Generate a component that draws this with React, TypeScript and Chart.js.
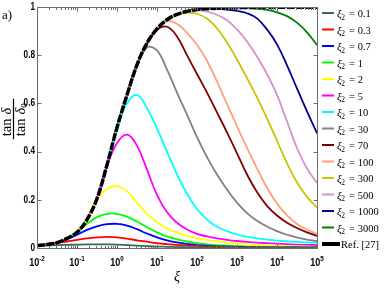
import React, { useEffect, useRef } from "react";
import { Chart, registerables } from "chart.js";

Chart.register(...registerables);

// x grid (xi), quarter decades from 1e-2 to 1e5
const xiGrid = [0.01, 0.0178, 0.0316, 0.0562, 0.1, 0.178, 0.316, 0.562, 1, 1.78, 3.16, 5.62, 10, 17.8, 31.6, 56.2, 100, 178, 316, 562, 1000, 1780, 3160, 5620, 10000, 17800, 31600, 56200, 100000];

const xTickExponents = [-2, -1, 0, 1, 2, 3, 4, 5];
const yTickValues = [0, 0.2, 0.4, 0.6, 0.8, 1];
const yTickLabels = ["0", "0.2", "0.4", "0.6", "0.8", "1"];

const xi2Labels = ["0.1", "0.3", "0.7", "1", "2", "5", "10", "30", "70", "100", "300", "500", "1000", "3000"];
const seriesColors = ["#2f6f55", "#ff0000", "#0000ff", "#00ff00", "#ffff00", "#ff00ff", "#00ffff", "#808080", "#800000", "#ffa07a", "#c8c400", "#d890c8", "#000090", "#008000"];

const v0_1 = [0.008, 0.01, 0.012, 0.013, 0.014, 0.015, 0.015, 0.015, 0.014, 0.012, 0.01, 0.008, 0.006, 0.005, 0.004, 0.003, 0.002, 0.002, 0.001, 0.001, 0.001, 0.001, 0.001, 0.001, 0.001, 0.001, 0.001, 0.001, 0.001];
const v0_3 = [0.01, 0.014, 0.02, 0.027, 0.034, 0.04, 0.044, 0.046, 0.044, 0.039, 0.032, 0.026, 0.02, 0.016, 0.013, 0.01, 0.008, 0.006, 0.005, 0.004, 0.003, 0.003, 0.002, 0.002, 0.002, 0.001, 0.001, 0.001, 0.001];
const v0_7 = [0.01, 0.015, 0.022, 0.036, 0.055, 0.075, 0.09, 0.099, 0.1, 0.093, 0.078, 0.06, 0.044, 0.032, 0.023, 0.017, 0.012, 0.009, 0.007, 0.006, 0.005, 0.004, 0.003, 0.003, 0.002, 0.002, 0.002, 0.001, 0.001];
const v1 = [0.01, 0.015, 0.022, 0.04, 0.065, 0.1, 0.128, 0.142, 0.142, 0.13, 0.11, 0.086, 0.065, 0.048, 0.036, 0.027, 0.02, 0.015, 0.012, 0.01, 0.008, 0.006, 0.005, 0.004, 0.003, 0.003, 0.002, 0.002, 0.002];
const v2 = [0.01, 0.015, 0.022, 0.04, 0.065, 0.118, 0.2, 0.245, 0.257, 0.235, 0.188, 0.142, 0.107, 0.081, 0.063, 0.05, 0.041, 0.034, 0.028, 0.023, 0.019, 0.016, 0.013, 0.011, 0.009, 0.008, 0.007, 0.006, 0.005];
const v5 = [0.01, 0.015, 0.022, 0.04, 0.065, 0.118, 0.205, 0.34, 0.435, 0.47, 0.425, 0.325, 0.22, 0.148, 0.105, 0.077, 0.059, 0.048, 0.04, 0.034, 0.029, 0.025, 0.022, 0.02, 0.018, 0.016, 0.014, 0.013, 0.012];
const v10 = [0.01, 0.015, 0.022, 0.04, 0.065, 0.118, 0.205, 0.345, 0.49, 0.6, 0.635, 0.58, 0.495, 0.4, 0.305, 0.225, 0.162, 0.118, 0.088, 0.07, 0.056, 0.047, 0.04, 0.035, 0.031, 0.028, 0.025, 0.023, 0.021];
const v30 = [0.01, 0.015, 0.022, 0.04, 0.065, 0.118, 0.205, 0.345, 0.5, 0.635, 0.755, 0.832, 0.82, 0.74, 0.645, 0.553, 0.46, 0.377, 0.305, 0.243, 0.188, 0.145, 0.113, 0.089, 0.07, 0.055, 0.044, 0.035, 0.028];
const v70 = [0.01, 0.015, 0.022, 0.04, 0.065, 0.118, 0.205, 0.345, 0.5, 0.635, 0.76, 0.848, 0.905, 0.918, 0.878, 0.8, 0.722, 0.645, 0.563, 0.48, 0.393, 0.305, 0.232, 0.175, 0.135, 0.105, 0.083, 0.065, 0.05];
const v100 = [0.01, 0.015, 0.022, 0.04, 0.065, 0.118, 0.205, 0.345, 0.5, 0.635, 0.76, 0.85, 0.907, 0.942, 0.93, 0.893, 0.843, 0.777, 0.69, 0.598, 0.505, 0.415, 0.33, 0.25, 0.185, 0.135, 0.1, 0.077, 0.058];
const v300 = [0.01, 0.015, 0.022, 0.04, 0.065, 0.118, 0.205, 0.345, 0.5, 0.635, 0.76, 0.85, 0.909, 0.947, 0.969, 0.977, 0.972, 0.952, 0.912, 0.853, 0.782, 0.705, 0.625, 0.538, 0.445, 0.352, 0.272, 0.212, 0.168];
const v500 = [0.01, 0.015, 0.022, 0.04, 0.065, 0.118, 0.205, 0.345, 0.5, 0.635, 0.76, 0.85, 0.909, 0.947, 0.969, 0.982, 0.986, 0.981, 0.968, 0.945, 0.907, 0.857, 0.795, 0.722, 0.635, 0.525, 0.415, 0.33, 0.27];
const v1000 = [0.01, 0.015, 0.022, 0.04, 0.065, 0.118, 0.205, 0.345, 0.5, 0.635, 0.76, 0.85, 0.909, 0.947, 0.969, 0.982, 0.99, 0.993, 0.992, 0.989, 0.984, 0.974, 0.953, 0.907, 0.845, 0.758, 0.662, 0.567, 0.476];
const v3000 = [0.01, 0.015, 0.022, 0.04, 0.065, 0.118, 0.205, 0.345, 0.5, 0.635, 0.76, 0.85, 0.909, 0.947, 0.969, 0.982, 0.99, 0.993, 0.995, 0.996, 0.997, 0.996, 0.993, 0.988, 0.978, 0.962, 0.935, 0.895, 0.842];
const vRef = [0.01, 0.015, 0.022, 0.04, 0.065, 0.118, 0.205, 0.345, 0.5, 0.635, 0.76, 0.85, 0.909, 0.947, 0.969, 0.982, 0.99, 0.993, 0.995, 0.996, 0.997, 0.998, 0.998, 0.999, 0.999, 0.999, 0.999, 0.999, 0.999];

const seriesValues = [v0_1, v0_3, v0_7, v1, v2, v5, v10, v30, v70, v100, v300, v500, v1000, v3000];
const refLabel = "Ref. [27]";

const SERIF = "'Liberation Serif', 'DejaVu Serif', serif";
const SANS = "'Liberation Sans', Arial, sans-serif";

const decorPlugin = {
  id: "decor",
  afterDraw(chart: any) {
    const ctx: CanvasRenderingContext2D = chart.ctx;
    const ca = chart.chartArea;
    const xs = chart.scales.x;
    const ys = chart.scales.y;
    ctx.save();
    const L = Math.round(ca.left) + 0.5;
    const R = Math.round(ca.right) + 0.5;
    const T = Math.round(ca.top) + 0.5;
    const B = Math.round(ca.bottom) + 0.5;
    ctx.strokeStyle = "#6a6a6a";
    ctx.lineWidth = 1;
    ctx.beginPath();
    ctx.moveTo(L, T); ctx.lineTo(R, T); ctx.lineTo(R, B); ctx.lineTo(L, B); ctx.closePath();
    yTickValues.forEach((v) => {
      const py = Math.round(ys.getPixelForValue(v)) + 0.5;
      ctx.moveTo(L, py); ctx.lineTo(L + 4, py);
      ctx.moveTo(R, py); ctx.lineTo(R - 4, py);
    });
    xTickExponents.forEach((e, i) => {
      const base = Math.pow(10, e);
      const px = Math.round(xs.getPixelForValue(base)) + 0.5;
      ctx.moveTo(px, B); ctx.lineTo(px, B - 4);
      ctx.moveTo(px, T); ctx.lineTo(px, T + 4);
      if (i < xTickExponents.length - 1) {
        for (let m = 2; m <= 9; m++) {
          const mx = Math.round(xs.getPixelForValue(base * m)) + 0.5;
          ctx.moveTo(mx, B); ctx.lineTo(mx, B - 2.5);
          ctx.moveTo(mx, T); ctx.lineTo(mx, T + 2.5);
        }
      }
    });
    ctx.stroke();

    // y tick labels
    ctx.fillStyle = "#000";
    ctx.textBaseline = "middle";
    yTickValues.forEach((v, i) => {
      const py = ys.getPixelForValue(v);
      ctx.save();
      ctx.translate(ca.left - 2, py);
      ctx.scale(0.82, 1);
      ctx.font = "bold 10px " + SANS;
      ctx.textAlign = "right";
      ctx.fillText(yTickLabels[i], 0, 0);
      ctx.restore();
    });

    // x tick labels 10^e
    const sx = 0.9;
    xTickExponents.forEach((e) => {
      const px = xs.getPixelForValue(Math.pow(10, e));
      const baseTxt = "10";
      const expTxt = e < 0 ? "-" + Math.abs(e) : String(e);
      ctx.save();
      ctx.font = "bold 10px " + SANS;
      const wb = ctx.measureText(baseTxt).width * sx;
      ctx.font = "bold 7px " + SANS;
      const we = ctx.measureText(expTxt).width * sx;
      const x0 = px - (wb + we) / 2;
      ctx.textAlign = "left";
      ctx.textBaseline = "alphabetic";
      ctx.translate(x0, 266);
      ctx.scale(sx, 1);
      ctx.font = "bold 10px " + SANS;
      ctx.fillText(baseTxt, 0, 0);
      ctx.font = "bold 7px " + SANS;
      ctx.fillText(expTxt, wb / sx, -5);
      ctx.restore();
    });

    // x axis title
    ctx.font = "italic 14px " + SERIF;
    ctx.textAlign = "center";
    ctx.textBaseline = "alphabetic";
    ctx.fillText("ξ", (ca.left + ca.right) / 2, 281);

    // panel label
    ctx.font = "13px " + SERIF;
    ctx.textAlign = "left";
    ctx.fillText("a)", 2, 19);

    // y axis title: fraction tan δ / tan δ0
    ctx.save();
    ctx.translate(13.5, 122);
    ctx.rotate(-Math.PI / 2);
    ctx.textBaseline = "alphabetic";
    ctx.textAlign = "left";
    ctx.font = "14.5px " + SERIF;
    const wTan = ctx.measureText("tan").width;
    ctx.font = "italic 14.5px " + SERIF;
    const wDel = ctx.measureText("δ").width;
    const gap = 4;
    const wNum = wTan + gap + wDel;
    // numerator
    let nx = -wNum / 2;
    ctx.font = "14.5px " + SERIF;
    ctx.fillText("tan", nx, -3);
    ctx.font = "italic 14.5px " + SERIF;
    ctx.fillText("δ", nx + wTan + gap, -3);
    // bar
    ctx.fillRect(-wNum / 2 - 3, -0.6, wNum + 12, 1.2);
    // denominator
    ctx.font = "14.5px " + SERIF;
    ctx.fillText("tan", nx, 11);
    ctx.font = "italic 14.5px " + SERIF;
    ctx.fillText("δ", nx + wTan + gap, 11);
    ctx.font = "9px " + SERIF;
    ctx.fillText("0", nx + wNum, 13.5);
    ctx.restore();

    // legend
    const lx = 322;
    const y0 = 13;
    const dy = 16.5;
    xi2Labels.forEach((lab, i) => {
      const y = y0 + i * dy;
      ctx.strokeStyle = seriesColors[i];
      ctx.lineWidth = 2;
      ctx.beginPath();
      ctx.moveTo(lx, y); ctx.lineTo(lx + 12, y);
      ctx.stroke();
      ctx.fillStyle = "#000";
      ctx.textAlign = "left";
      ctx.textBaseline = "alphabetic";
      let tx = lx + 15;
      ctx.font = "italic 11px " + SERIF;
      ctx.fillText("ξ", tx, y + 4);
      tx += ctx.measureText("ξ").width;
      ctx.font = "7.5px " + SERIF;
      ctx.fillText("2", tx - 0.5, y + 6.5);
      tx += ctx.measureText("2").width + 1;
      ctx.font = "10.5px " + SERIF;
      ctx.fillText(" = " + lab, tx, y + 4);
    });
    const yr = y0 + xi2Labels.length * dy;
    ctx.strokeStyle = "#000";
    ctx.lineWidth = 4;
    ctx.beginPath();
    ctx.moveTo(lx, yr); ctx.lineTo(lx + 18, yr);
    ctx.stroke();
    ctx.font = "10.5px " + SERIF;
    ctx.fillText(refLabel, lx + 19, yr + 4);
    ctx.restore();
  },
};

export default function App() {
  const canvasRef = useRef<HTMLCanvasElement | null>(null);
  useEffect(() => {
    if (!canvasRef.current) return;
    const datasets: any[] = [];
    datasets.push({
      label: refLabel,
      data: xiGrid.map((x, i) => ({ x, y: vRef[i] })),
      borderColor: "#000",
      borderWidth: 3.5,
      borderDash: [8, 1.5],
      pointRadius: 0,
      tension: 0.4,
    });
    seriesValues.forEach((vals, s) => {
      datasets.push({
        label: "ξ2 = " + xi2Labels[s],
        data: xiGrid.map((x, i) => ({ x, y: vals[i] })),
        borderColor: seriesColors[s],
        borderWidth: 1.8,
        pointRadius: 0,
        tension: 0.4,
      });
    });
    const chart = new Chart(canvasRef.current, {
      type: "line",
      data: { datasets },
      options: {
        animation: false,
        responsive: false,
        maintainAspectRatio: false,
        devicePixelRatio: 1,
        layout: { padding: { left: 37, top: 7, right: 73, bottom: 41 } },
        plugins: { legend: { display: false }, tooltip: { enabled: false } },
        scales: {
          x: { type: "logarithmic", min: 0.01, max: 100000, display: false },
          y: { type: "linear", min: 0, max: 1, display: false },
        },
      },
      plugins: [decorPlugin],
    });
    return () => chart.destroy();
  }, []);
  return (
    <div style={{ position: "absolute", left: 0, top: 0, width: 390, height: 289, background: "#fff" }}>
      <canvas ref={canvasRef} width={390} height={289} style={{ display: "block" }} />
    </div>
  );
}
